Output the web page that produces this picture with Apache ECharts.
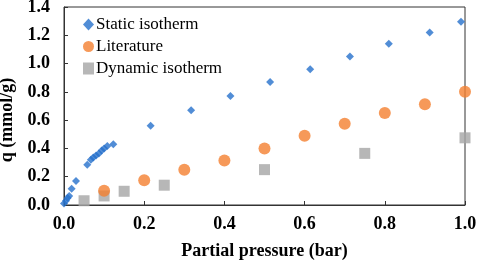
<!DOCTYPE html>
<html>
<head>
<meta charset="utf-8">
<script src="https://cdn.jsdelivr.net/npm/echarts@6/dist/echarts.min.js"></script>
<style>
  html, body { margin: 0; padding: 0; background: #fff; }
  #chart { width: 477px; height: 261px; }
</style>
</head>
<body>
<div id="chart"></div>
<script>
// static isotherm (pressure, q)
var staticP = [0.0, 0.005, 0.009, 0.013, 0.019, 0.03, 0.058, 0.067, 0.073, 0.08, 0.087, 0.094, 0.1, 0.108, 0.123,
               0.216, 0.317, 0.415, 0.514, 0.614, 0.713, 0.81, 0.912, 0.99]
var staticQ = [0.01, 0.03, 0.05, 0.064, 0.115, 0.17, 0.285, 0.32, 0.335, 0.35, 0.365, 0.385, 0.40, 0.417, 0.43,
               0.56, 0.67, 0.77, 0.87, 0.96, 1.05, 1.14, 1.22, 1.295]
// literature
var litP = [0.1, 0.2, 0.3, 0.4, 0.5, 0.6, 0.7, 0.8, 0.9, 1.0]
var litQ = [0.10, 0.175, 0.25, 0.315, 0.40, 0.49, 0.575, 0.65, 0.713, 0.80]
// dynamic isotherm
var dynP = [0.05, 0.1, 0.15, 0.25, 0.5, 0.75, 1.0]
var dynQ = [0.03, 0.064, 0.097, 0.14, 0.25, 0.365, 0.475]

function pairs(xs, ys) {
    return xs.map(function (x, i) { return [x, ys[i]] })
}

var font = 'Liberation Serif'
var chart = echarts.init(document.getElementById('chart'))
chart.setOption({
    animation: false,
    grid: {
        left: 64, right: 12, top: 7, bottom: 56,
        outerBoundsMode: 'none',
        show: true, borderColor: '#333', borderWidth: 1
    },
    legend: {
        orient: 'vertical',
        left: 78, top: 11,
        itemGap: 5,
        itemWidth: 11, itemHeight: 12,
        textStyle: { fontFamily: font, fontSize: 17, color: '#000', padding: [0, 0, 0, -3] },
        data: [
            { name: 'Static isotherm', icon: 'diamond' },
            { name: 'Literature', icon: 'circle' },
            { name: 'Dynamic isotherm', icon: 'rect' }
        ]
    },
    xAxis: {
        type: 'value', min: 0, max: 1, interval: 0.2,
        name: 'Partial pressure (bar)', nameLocation: 'middle', nameGap: 37,
        nameTextStyle: { fontFamily: font, fontSize: 18, fontWeight: 'bold', color: '#000' },
        axisLine: { lineStyle: { color: '#333' } },
        axisTick: { show: true, inside: true, length: 4, lineStyle: { color: '#333' } },
        splitLine: { show: false },
        axisLabel: {
            fontFamily: font, fontSize: 18, fontWeight: 'bold', color: '#000', margin: 10,
            formatter: function (v) { return v.toFixed(1) }
        }
    },
    yAxis: {
        type: 'value', min: 0, max: 1.4, interval: 0.2,
        name: 'q (mmol/g)', nameLocation: 'middle', nameGap: 42,
        nameTextStyle: { fontFamily: font, fontSize: 18, fontWeight: 'bold', color: '#000', padding: [0, 28, 0, 0] },
        axisLine: { show: true, lineStyle: { color: '#333' } },
        axisTick: { show: true, inside: true, length: 4, lineStyle: { color: '#333' } },
        splitLine: { show: false },
        axisLabel: {
            fontFamily: font, fontSize: 18, fontWeight: 'bold', color: '#000', margin: 14,
            formatter: function (v) { return v.toFixed(1) }
        }
    },
    series: [
        {
            name: 'Static isotherm', type: 'scatter', symbol: 'diamond', symbolSize: 8,
            itemStyle: { color: '#2670CC' }, data: pairs(staticP, staticQ), z: 3
        },
        {
            name: 'Literature', type: 'scatter', symbol: 'circle', symbolSize: 12,
            itemStyle: { color: '#F4802F' }, data: pairs(litP, litQ), z: 2
        },
        {
            name: 'Dynamic isotherm', type: 'scatter', symbol: 'rect', symbolSize: 11,
            itemStyle: { color: '#A5A5A5' }, data: pairs(dynP, dynQ), z: 1
        }
    ]
})
</script>
</body>
</html>
